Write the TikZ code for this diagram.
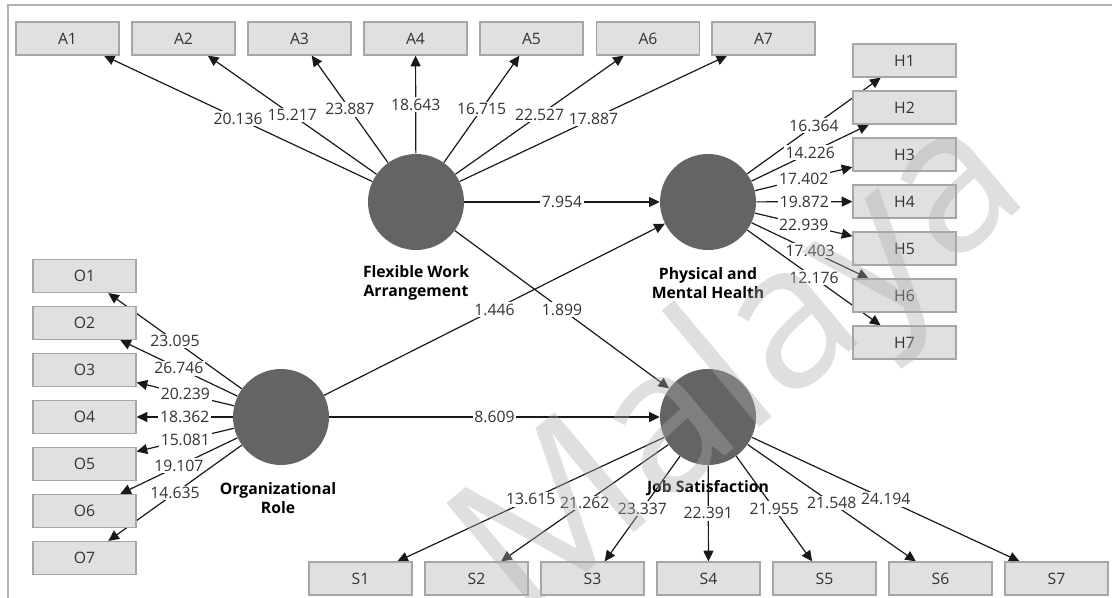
\documentclass[tikz,border=0pt]{standalone}
\usepackage{fontspec}
\setmainfont{Open Sans}
\usetikzlibrary{arrows.meta}
\definecolor{latgray}{HTML}{646464}
\definecolor{boxgray}{HTML}{E0E0E0}
\definecolor{boxline}{HTML}{A6A6A6}
\definecolor{numgray}{HTML}{333333}
\definecolor{wmgray}{HTML}{ACACAC}
\pgfdeclarelayer{bg}
\pgfsetlayers{bg,main}
\newcommand{\lblfont}{\fontsize{11.8pt}{14pt}\selectfont}
\tikzset{
  ind/.style={draw=boxline, fill=boxgray, line width=0.9pt, minimum width=77.25pt, minimum height=24.75pt, inner sep=0pt, text=numgray, font=\lblfont},
  lat/.style={circle, fill=latgray, minimum size=72pt, inner sep=0pt},
  latname/.style={font=\lblfont\bfseries, align=center, text=black},
  tval/.style={fill=white, inner sep=1.2pt, text=numgray, font=\lblfont},
  arr/.style={draw=black!90, line width=0.9pt, -{Triangle[length=8pt,width=7.5pt]}}
}

\begin{document}
\begin{tikzpicture}[x=0.75pt, y=-0.75pt]
		%%%%% START %%%%%
		\useasboundingbox (0,0) rectangle (1112,598);
		\draw[black!30, line width=1.2pt] (8,598) -- (8,5) -- (1112,5);
		
		% latent variables
		\node[lat] (fwa) at (416,202) {};
		\node[lat] (pmh) at (708,202) {};
		\node[lat] (orr) at (281,417) {};
		\node[lat] (js) at (708,417) {};
		\node[latname] (fwaname) at (416,283) {Flexible Work\\Arrangement};
		\node[latname] (pmhname) at (708,283) {Physical and\\Mental Health};
		\node[latname] (orrname) at (278,498) {Organizational\\Role};
		\node[latname] (jsname) at (708,488) {Job Satisfaction};
		
		% indicators
		\node[ind] (a1) at (67.5,38.5) {A1};
		\node[ind] (a2) at (183.5,38.5) {A2};
		\node[ind] (a3) at (299.5,38.5) {A3};
		\node[ind] (a4) at (415.5,38.5) {A4};
		\node[ind] (a5) at (531.5,38.5) {A5};
		\node[ind] (a6) at (648,38.5) {A6};
		\node[ind] (a7) at (763.5,38.5) {A7};
		
		\node[ind] (h1) at (904.5,60.5) {H1};
		\node[ind] (h2) at (904.5,107.5) {H2};
		\node[ind] (h3) at (904.5,154.5) {H3};
		\node[ind] (h4) at (904.5,201.5) {H4};
		\node[ind] (h5) at (904.5,248.5) {H5};
		\node[ind] (h6) at (904.5,295.5) {H6};
		\node[ind] (h7) at (904.5,342.5) {H7};
		
		\node[ind] (o1) at (84.5,276) {O1};
		\node[ind] (o2) at (84.5,323) {O2};
		\node[ind] (o3) at (84.5,370) {O3};
		\node[ind] (o4) at (84.5,417) {O4};
		\node[ind] (o5) at (84.5,464) {O5};
		\node[ind] (o6) at (84.5,511) {O6};
		\node[ind] (o7) at (84.5,558) {O7};
		
		\node[ind] (s1) at (360.5,578.5) {S1};
		\node[ind] (s2) at (476.5,578.5) {S2};
		\node[ind] (s3) at (592.5,578.5) {S3};
		\node[ind] (s4) at (708.5,578.5) {S4};
		\node[ind] (s5) at (824.5,578.5) {S5};
		\node[ind] (s6) at (940.5,578.5) {S6};
		\node[ind] (s7) at (1056.5,578.5) {S7};
		
		\begin{pgfonlayer}{bg}
		% outer loadings
		\draw[arr] (fwa) -- node[tval] {20.136} (a1);
		\draw[arr] (fwa) -- node[tval] {15.217} (a2);
		\draw[arr] (fwa) -- node[tval] {23.887} (a3);
		\draw[arr] (fwa) -- node[tval] {18.643} (a4);
		\draw[arr] (fwa) -- node[tval] {16.715} (a5);
		\draw[arr] (fwa) -- node[tval] {22.527} (a6);
		\draw[arr] (fwa) -- node[tval] {17.887} (a7);
		
		\draw[arr] (pmh) -- node[tval] {16.364} (h1);
		\draw[arr] (pmh) -- node[tval] {14.226} (h2);
		\draw[arr] (pmh) -- node[tval] {17.402} (h3);
		\draw[arr] (pmh) -- node[tval] {19.872} (h4);
		\draw[arr] (pmh) -- node[tval] {22.939} (h5);
		\draw[arr] (pmh) -- node[tval] {17.403} (h6);
		\draw[arr] (pmh) -- node[tval] {12.176} (h7);
		
		\draw[arr] (orr) -- node[tval] {23.095} (o1);
		\draw[arr] (orr) -- node[tval] {26.746} (o2);
		\draw[arr] (orr) -- node[tval] {20.239} (o3);
		\draw[arr] (orr) -- node[tval] {18.362} (o4);
		\draw[arr] (orr) -- node[tval] {15.081} (o5);
		\draw[arr] (orr) -- node[tval] {19.107} (o6);
		\draw[arr] (orr) -- node[tval] {14.635} (o7);
		
		\draw[arr] (js) -- node[tval] {13.615} (s1);
		\draw[arr] (js) -- node[tval] {21.262} (s2);
		\draw[arr] (js) -- node[tval] {23.337} (s3);
		\draw[arr] (js) -- node[tval] {22.391} (s4);
		\draw[arr] (js) -- node[tval] {21.955} (s5);
		\draw[arr] (js) -- node[tval] {21.548} (s6);
		\draw[arr] (js) -- node[tval] {24.194} (s7);
		
		% structural paths
		\draw[arr] (fwa) -- node[tval] {7.954} (pmh);
		\draw[arr] (orr) -- node[tval] {1.446} (pmh);
		\draw[arr] (fwa) -- node[tval] {1.899} (js);
		\draw[arr] (orr) -- node[tval] {8.609} (js);
		\end{pgfonlayer}
		
		% watermark
		\node[rotate=40, text=wmgray, opacity=0.38, font=\fontsize{150pt}{150pt}\selectfont] (wm) at (745,372) {Malaya};
		%%%%% END %%%%%
\end{tikzpicture}
\end{document}
